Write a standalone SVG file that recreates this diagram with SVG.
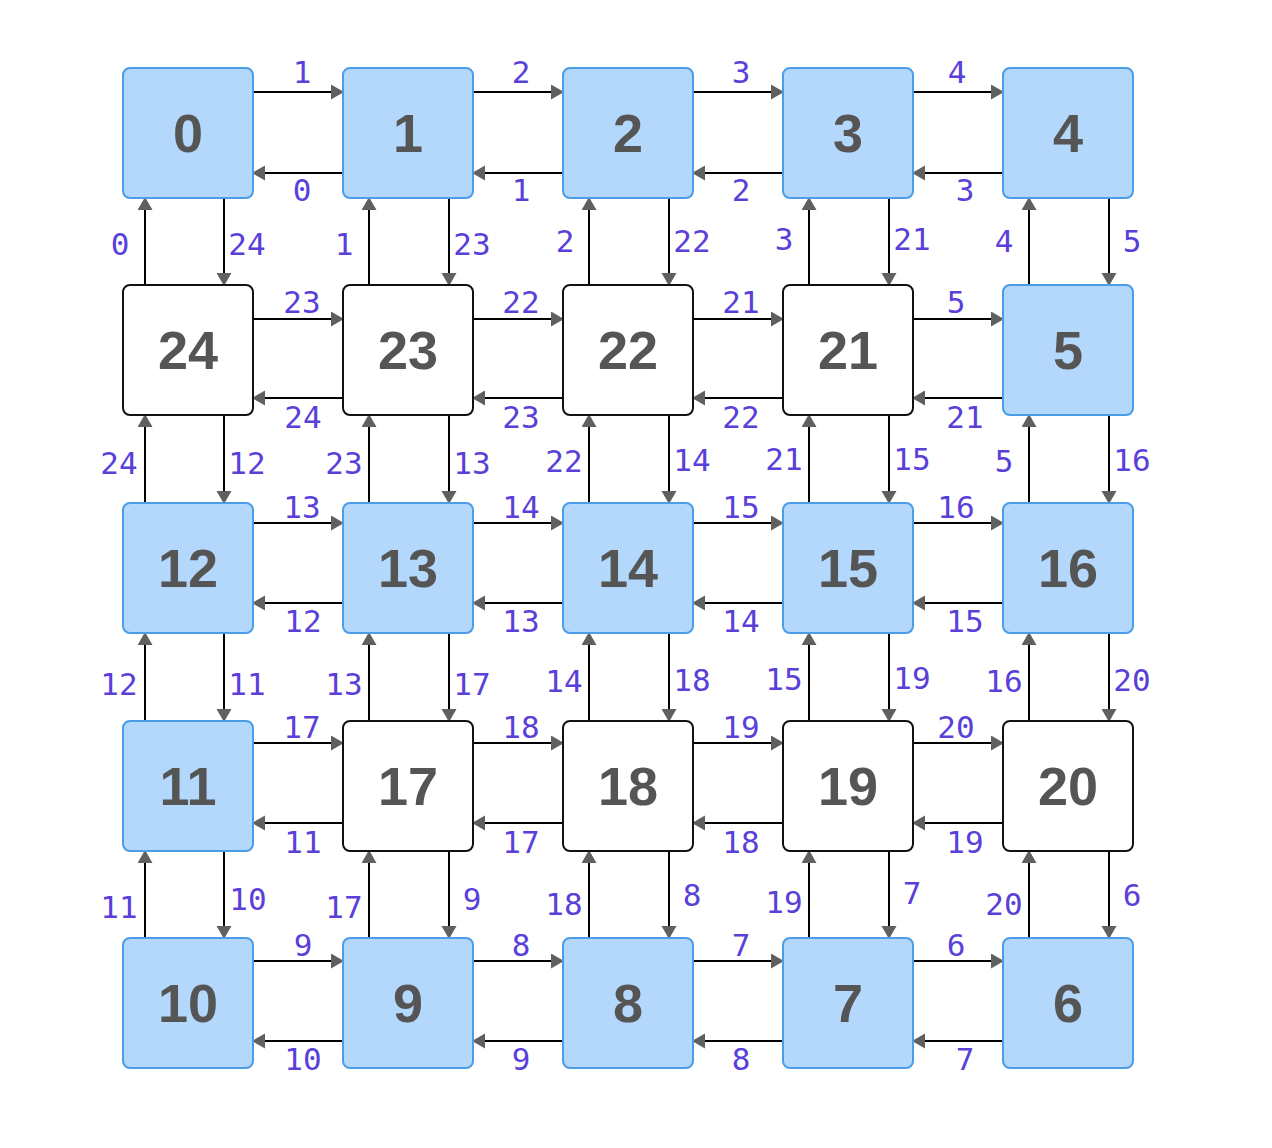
<svg xmlns="http://www.w3.org/2000/svg" width="1272" height="1148" viewBox="0 0 1272 1148">
<style>
.nb rect{fill:#b3d8fb;stroke:#4a9de6;stroke-width:2}
.nw rect{fill:#ffffff;stroke:#111111;stroke-width:2}
.nt{font-family:"Liberation Sans",Arial,sans-serif;font-weight:bold;font-size:54px;fill:#555555;text-anchor:middle}
.e line{stroke:#000;stroke-width:2;marker-end:url(#ah)}
.el{font-family:"DejaVu Sans Mono",monospace;font-size:31px;fill:#5a3fd9;text-anchor:middle}
</style>
<defs>
<marker id="ah" markerUnits="userSpaceOnUse" markerWidth="14" markerHeight="16" refX="12" refY="7.5" orient="auto">
<path d="M0,0 L13,7.5 L0,15 z" fill="#606060"/>
</marker>
</defs>
<rect width="1272" height="1148" fill="#ffffff"/>

<g id="connectors" class="e">
<line x1="253" y1="92" x2="343" y2="92"/><line x1="343" y1="173" x2="253" y2="173"/>
<line x1="473" y1="92" x2="563" y2="92"/><line x1="563" y1="173" x2="473" y2="173"/>
<line x1="693" y1="92" x2="783" y2="92"/><line x1="783" y1="173" x2="693" y2="173"/>
<line x1="913" y1="92" x2="1003" y2="92"/><line x1="1003" y1="173" x2="913" y2="173"/>
<line x1="253" y1="319" x2="343" y2="319"/><line x1="343" y1="398" x2="253" y2="398"/>
<line x1="473" y1="319" x2="563" y2="319"/><line x1="563" y1="398" x2="473" y2="398"/>
<line x1="693" y1="319" x2="783" y2="319"/><line x1="783" y1="398" x2="693" y2="398"/>
<line x1="913" y1="319" x2="1003" y2="319"/><line x1="1003" y1="398" x2="913" y2="398"/>
<line x1="253" y1="523" x2="343" y2="523"/><line x1="343" y1="603" x2="253" y2="603"/>
<line x1="473" y1="523" x2="563" y2="523"/><line x1="563" y1="603" x2="473" y2="603"/>
<line x1="693" y1="523" x2="783" y2="523"/><line x1="783" y1="603" x2="693" y2="603"/>
<line x1="913" y1="523" x2="1003" y2="523"/><line x1="1003" y1="603" x2="913" y2="603"/>
<line x1="253" y1="743" x2="343" y2="743"/><line x1="343" y1="823" x2="253" y2="823"/>
<line x1="473" y1="743" x2="563" y2="743"/><line x1="563" y1="823" x2="473" y2="823"/>
<line x1="693" y1="743" x2="783" y2="743"/><line x1="783" y1="823" x2="693" y2="823"/>
<line x1="913" y1="743" x2="1003" y2="743"/><line x1="1003" y1="823" x2="913" y2="823"/>
<line x1="253" y1="961" x2="343" y2="961"/><line x1="343" y1="1041" x2="253" y2="1041"/>
<line x1="473" y1="961" x2="563" y2="961"/><line x1="563" y1="1041" x2="473" y2="1041"/>
<line x1="693" y1="961" x2="783" y2="961"/><line x1="783" y1="1041" x2="693" y2="1041"/>
<line x1="913" y1="961" x2="1003" y2="961"/><line x1="1003" y1="1041" x2="913" y2="1041"/>
<line x1="145" y1="285" x2="145" y2="198"/><line x1="224" y1="198" x2="224" y2="285"/>
<line x1="369" y1="285" x2="369" y2="198"/><line x1="449" y1="198" x2="449" y2="285"/>
<line x1="589" y1="285" x2="589" y2="198"/><line x1="669" y1="198" x2="669" y2="285"/>
<line x1="809" y1="285" x2="809" y2="198"/><line x1="889" y1="198" x2="889" y2="285"/>
<line x1="1029" y1="285" x2="1029" y2="198"/><line x1="1109" y1="198" x2="1109" y2="285"/>
<line x1="145" y1="503" x2="145" y2="415"/><line x1="224" y1="415" x2="224" y2="503"/>
<line x1="369" y1="503" x2="369" y2="415"/><line x1="449" y1="415" x2="449" y2="503"/>
<line x1="589" y1="503" x2="589" y2="415"/><line x1="669" y1="415" x2="669" y2="503"/>
<line x1="809" y1="503" x2="809" y2="415"/><line x1="889" y1="415" x2="889" y2="503"/>
<line x1="1029" y1="503" x2="1029" y2="415"/><line x1="1109" y1="415" x2="1109" y2="503"/>
<line x1="145" y1="721" x2="145" y2="633"/><line x1="224" y1="633" x2="224" y2="721"/>
<line x1="369" y1="721" x2="369" y2="633"/><line x1="449" y1="633" x2="449" y2="721"/>
<line x1="589" y1="721" x2="589" y2="633"/><line x1="669" y1="633" x2="669" y2="721"/>
<line x1="809" y1="721" x2="809" y2="633"/><line x1="889" y1="633" x2="889" y2="721"/>
<line x1="1029" y1="721" x2="1029" y2="633"/><line x1="1109" y1="633" x2="1109" y2="721"/>
<line x1="145" y1="938" x2="145" y2="851"/><line x1="224" y1="851" x2="224" y2="938"/>
<line x1="369" y1="938" x2="369" y2="851"/><line x1="449" y1="851" x2="449" y2="938"/>
<line x1="589" y1="938" x2="589" y2="851"/><line x1="669" y1="851" x2="669" y2="938"/>
<line x1="809" y1="938" x2="809" y2="851"/><line x1="889" y1="851" x2="889" y2="938"/>
<line x1="1029" y1="938" x2="1029" y2="851"/><line x1="1109" y1="851" x2="1109" y2="938"/>
</g>

<g id="edge-labels" class="el">
<text x="302" y="83">1</text><text x="302" y="201">0</text>
<text x="521" y="83">2</text><text x="521" y="201">1</text>
<text x="741" y="83">3</text><text x="741" y="201">2</text>
<text x="957" y="83">4</text><text x="965" y="201">3</text>
<text x="120" y="255">0</text><text x="247" y="255">24</text>
<text x="344" y="255">1</text><text x="472" y="255">23</text>
<text x="565" y="252">2</text><text x="692" y="252">22</text>
<text x="784" y="250">3</text><text x="912" y="250">21</text>
<text x="1004" y="252">4</text><text x="1132" y="252">5</text>
<text x="302" y="313">23</text><text x="303" y="428">24</text>
<text x="521" y="313">22</text><text x="521" y="428">23</text>
<text x="741" y="313">21</text><text x="741" y="428">22</text>
<text x="956" y="313">5</text><text x="965" y="428">21</text>
<text x="119" y="474">24</text><text x="247" y="474">12</text>
<text x="344" y="474">23</text><text x="472" y="474">13</text>
<text x="564" y="472">22</text><text x="692" y="471">14</text>
<text x="784" y="470">21</text><text x="912" y="470">15</text>
<text x="1004" y="472">5</text><text x="1132" y="471">16</text>
<text x="302" y="518">13</text><text x="303" y="632">12</text>
<text x="521" y="518">14</text><text x="521" y="632">13</text>
<text x="741" y="518">15</text><text x="741" y="632">14</text>
<text x="956" y="518">16</text><text x="965" y="632">15</text>
<text x="119" y="695">12</text><text x="247" y="695">11</text>
<text x="344" y="695">13</text><text x="472" y="695">17</text>
<text x="564" y="692">14</text><text x="692" y="691">18</text>
<text x="784" y="690">15</text><text x="912" y="689">19</text>
<text x="1004" y="692">16</text><text x="1132" y="691">20</text>
<text x="302" y="738">17</text><text x="303" y="853">11</text>
<text x="521" y="738">18</text><text x="521" y="853">17</text>
<text x="741" y="738">19</text><text x="741" y="853">18</text>
<text x="956" y="738">20</text><text x="965" y="853">19</text>
<text x="119" y="918">11</text><text x="248" y="910">10</text>
<text x="344" y="918">17</text><text x="472" y="910">9</text>
<text x="564" y="915">18</text><text x="692" y="906">8</text>
<text x="784" y="913">19</text><text x="912" y="904">7</text>
<text x="1004" y="915">20</text><text x="1132" y="906">6</text>
<text x="303" y="956">9</text><text x="303" y="1070">10</text>
<text x="521" y="956">8</text><text x="521" y="1070">9</text>
<text x="741" y="956">7</text><text x="741" y="1070">8</text>
<text x="956" y="956">6</text><text x="965" y="1070">7</text>
</g>

<g id="node-0" class="nb"><rect x="123" y="68" width="130" height="130" rx="7"/><text class="nt" x="188" y="152">0</text></g>
<g id="node-1" class="nb"><rect x="343" y="68" width="130" height="130" rx="7"/><text class="nt" x="408" y="152">1</text></g>
<g id="node-2" class="nb"><rect x="563" y="68" width="130" height="130" rx="7"/><text class="nt" x="628" y="152">2</text></g>
<g id="node-3" class="nb"><rect x="783" y="68" width="130" height="130" rx="7"/><text class="nt" x="848" y="152">3</text></g>
<g id="node-4" class="nb"><rect x="1003" y="68" width="130" height="130" rx="7"/><text class="nt" x="1068" y="152">4</text></g>

<g id="node-24" class="nw"><rect x="123" y="285" width="130" height="130" rx="7"/><text class="nt" x="188" y="369">24</text></g>
<g id="node-23" class="nw"><rect x="343" y="285" width="130" height="130" rx="7"/><text class="nt" x="408" y="369">23</text></g>
<g id="node-22" class="nw"><rect x="563" y="285" width="130" height="130" rx="7"/><text class="nt" x="628" y="369">22</text></g>
<g id="node-21" class="nw"><rect x="783" y="285" width="130" height="130" rx="7"/><text class="nt" x="848" y="369">21</text></g>
<g id="node-5" class="nb"><rect x="1003" y="285" width="130" height="130" rx="7"/><text class="nt" x="1068" y="369">5</text></g>

<g id="node-12" class="nb"><rect x="123" y="503" width="130" height="130" rx="7"/><text class="nt" x="188" y="587">12</text></g>
<g id="node-13" class="nb"><rect x="343" y="503" width="130" height="130" rx="7"/><text class="nt" x="408" y="587">13</text></g>
<g id="node-14" class="nb"><rect x="563" y="503" width="130" height="130" rx="7"/><text class="nt" x="628" y="587">14</text></g>
<g id="node-15" class="nb"><rect x="783" y="503" width="130" height="130" rx="7"/><text class="nt" x="848" y="587">15</text></g>
<g id="node-16" class="nb"><rect x="1003" y="503" width="130" height="130" rx="7"/><text class="nt" x="1068" y="587">16</text></g>

<g id="node-11" class="nb"><rect x="123" y="721" width="130" height="130" rx="7"/><text class="nt" x="188" y="805">11</text></g>
<g id="node-17" class="nw"><rect x="343" y="721" width="130" height="130" rx="7"/><text class="nt" x="408" y="805">17</text></g>
<g id="node-18" class="nw"><rect x="563" y="721" width="130" height="130" rx="7"/><text class="nt" x="628" y="805">18</text></g>
<g id="node-19" class="nw"><rect x="783" y="721" width="130" height="130" rx="7"/><text class="nt" x="848" y="805">19</text></g>
<g id="node-20" class="nw"><rect x="1003" y="721" width="130" height="130" rx="7"/><text class="nt" x="1068" y="805">20</text></g>

<g id="node-10" class="nb"><rect x="123" y="938" width="130" height="130" rx="7"/><text class="nt" x="188" y="1022">10</text></g>
<g id="node-9" class="nb"><rect x="343" y="938" width="130" height="130" rx="7"/><text class="nt" x="408" y="1022">9</text></g>
<g id="node-8" class="nb"><rect x="563" y="938" width="130" height="130" rx="7"/><text class="nt" x="628" y="1022">8</text></g>
<g id="node-7" class="nb"><rect x="783" y="938" width="130" height="130" rx="7"/><text class="nt" x="848" y="1022">7</text></g>
<g id="node-6" class="nb"><rect x="1003" y="938" width="130" height="130" rx="7"/><text class="nt" x="1068" y="1022">6</text></g>
</svg>
